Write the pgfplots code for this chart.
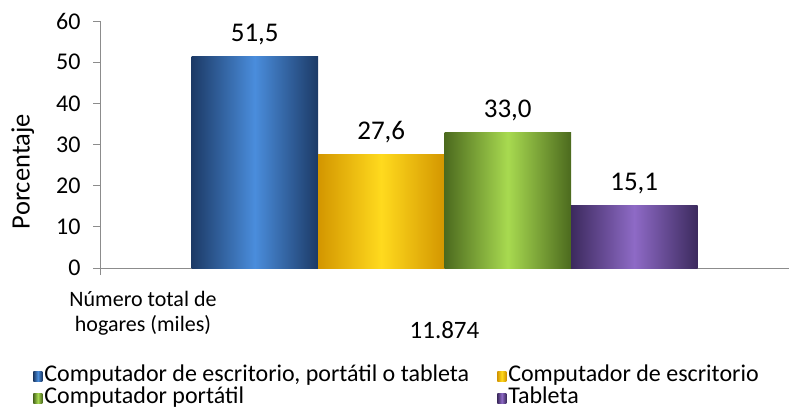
\documentclass[border=0pt]{standalone}
\usepackage{pgfplots}
\pgfplotsset{compat=1.18}
\usepackage{fontspec}
\setmainfont{Carlito}
\definecolor{bluD}{HTML}{1C3A66}
\definecolor{bluL}{HTML}{4A8DDC}
\definecolor{yelD}{HTML}{D39600}
\definecolor{yelL}{HTML}{FFDA1E}
\definecolor{grnD}{HTML}{4C6A1E}
\definecolor{grnL}{HTML}{A8DA50}
\definecolor{purD}{HTML}{3C2A5E}
\definecolor{purL}{HTML}{8E6AC6}
\definecolor{axgray}{HTML}{8C8C8C}
\begin{document}
\begin{tikzpicture}
\path[use as bounding box] (0,0) rectangle (789pt,-409pt);
\begin{axis}[
  at={(100pt,-268pt)}, anchor=south west,
  scale only axis, width=689pt, height=247pt,
  xmin=-0.5, xmax=0.5, ymin=0, ymax=60,
  ybar=0pt, bar width=126.5pt,
  axis lines*=left,
  axis line style={axgray, line width=1pt},
  ytick={0,10,...,60},
  xtick={-0.5}, xticklabels={},
  extra x ticks={0}, extra x tick labels={11.874},
  extra x tick style={major tick length=0pt},
  tick align=outside,
  major tick length=7pt,
  every tick/.style={axgray, line width=1pt},
  /pgf/number format/assume math mode=true,
  yticklabel style={font=\fontsize{24}{24}\selectfont, xshift=-9pt},
  xticklabel style={yshift=-50pt, font=\fontsize{25}{25}\selectfont},
  ylabel={Porcentaje},
  ylabel style={at={(axis description cs:-0.112,0.39)}, anchor=center, font=\fontsize{26.5}{26.5}\selectfont},
  legend style={at={(axis description cs:-0.097,-0.395)}, anchor=north west, draw=none,
    font=\fontsize{24}{24}\selectfont, inner sep=0pt, row sep=0pt,
    nodes={inner sep=0pt, text height=16pt, text depth=6pt},
    /tikz/every odd column/.append style={column sep=2pt},
    /tikz/every even column/.append style={column sep=28pt}},
  legend columns=2,
  legend cell align=left,
  legend image code/.code={\path[#1] (0pt,-5pt) rectangle (9pt,5pt);},
  nodes near coords={\pgfmathprintnumber[use comma,fixed,fixed zerofill,precision=1]{\pgfplotspointmeta}},
  every node near coord/.append style={font=\fontsize{27}{27}\selectfont, yshift=8pt},
]
\addplot[draw=none, left color=bluD, right color=bluD, middle color=bluL] coordinates {(0,51.5)};
\addlegendentry{Computador de escritorio, portátil o tableta}
\addplot[draw=none, left color=yelD, right color=yelD, middle color=yelL] coordinates {(0,27.6)};
\addlegendentry{Computador de escritorio}
\addplot[draw=none, left color=grnD, right color=grnD, middle color=grnL] coordinates {(0,33.0)};
\addlegendentry{Computador portátil}
\addplot[draw=none, left color=purD, right color=purD, middle color=purL] coordinates {(0,15.1)};
\addlegendentry{Tableta}
\end{axis}
\node[align=center, font=\fontsize{22}{25.5}\selectfont] at (143pt,-313pt) {Número total de\\hogares (miles)};
\end{tikzpicture}
\end{document}
